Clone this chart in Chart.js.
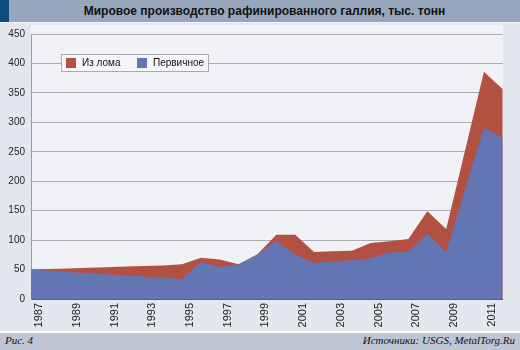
<!DOCTYPE html>
<html>
<head>
<meta charset="utf-8">
<script src="https://cdn.jsdelivr.net/npm/chart.js@4/dist/chart.umd.min.js"></script>
<style>
  html, body { margin: 0; padding: 0; }
  body { width: 520px; height: 350px; background: #e4e8ee; position: relative; overflow: hidden; font-family: "Liberation Sans", Arial, sans-serif; }
  #hdr { position: absolute; left: 0; top: 0; width: 520px; height: 22px; background: #98a6bd; }
  #strip { position: absolute; left: 0; top: 0; width: 9px; height: 22px; background: #0f4c7c; }
  #title { position: absolute; left: 9px; right: 0; top: 0; height: 22px; line-height: 22px; text-align: center; font-weight: bold; font-size: 12px; color: #111; }
  #sep { position: absolute; left: 0; top: 22px; width: 520px; height: 1px; background: #f4f6f9; }
  #wrap { position: absolute; left: 0; top: 22px; width: 520px; height: 309px; }
  #foot { position: absolute; left: 0; top: 331px; width: 520px; height: 19px; background: #bec6d4; border-top: 2px solid #ffffff; box-sizing: border-box; }
  #fl { position: absolute; left: 5px; top: 1px; font-family: "Liberation Serif", "DejaVu Serif", serif; font-style: italic; font-size: 11px; color: #111; }
  #fr { position: absolute; right: 5px; top: 1px; font-family: "Liberation Serif", "DejaVu Serif", serif; font-style: italic; font-size: 11px; color: #111; }
</style>
</head>
<body>
<div id="hdr"><div id="strip"></div><div id="title">Мировое производство рафинированного галлия, тыс. тонн</div></div>
<div id="sep"></div>
<div id="wrap"><canvas id="c" width="520" height="309"></canvas></div>
<div id="foot"><span id="fl">Рис. 4</span><span id="fr">Источники: USGS, MetalTorg.Ru</span></div>
<script>
const years = ["1987","1988","1989","1990","1991","1992","1993","1994","1995","1996","1997","1998","1999","2000","2001","2002","2003","2004","2005","2006","2007","2008","2009","2010","2011","2012"];
const primary = [50,48,46,44,42,40,38,36,34,63,54,59,75,99,75,61,64,66,69,79,80,111,80,185,291,274];
const scrap   = [0,3,6,9,12,15,18,21,25,7,13,0,1,10,34,19,17,16,26,19,22,38,39,67,95,82];
const yTicks = [0,50,100,150,200,250,300,350,400,450];
const seriesNames = ["Из лома", "Первичное"];
const colors = { scrap: "#b25142", primary: "#6475b4" };

const totals = primary.map((v, i) => v + scrap[i]);

const bgPlugin = {
  id: "bg",
  beforeDraw(chart) {
    const { ctx, chartArea: a } = chart;
    ctx.save();
    ctx.fillStyle = "#f0f2f6";
    ctx.fillRect(a.left, a.top - 9, a.right - a.left, a.bottom - a.top + 9);
    ctx.restore();
  }
};

const legendPlugin = {
  id: "boxLegend",
  afterDraw(chart) {
    const { ctx } = chart;
    const x0 = 61.5, y0 = 54.5 - 22, w = 147, h = 17;
    ctx.save();
    ctx.fillStyle = "#f5f6f9";
    ctx.fillRect(x0, y0, w, h);
    ctx.strokeStyle = "#a9abb2";
    ctx.lineWidth = 1;
    ctx.strokeRect(x0, y0, w, h);
    ctx.font = "10px 'Liberation Sans', Arial, sans-serif";
    ctx.textBaseline = "middle";
    ctx.fillStyle = colors.scrap;
    ctx.fillRect(66, y0 + 3.5, 10, 10);
    ctx.fillStyle = colors.primary;
    ctx.fillRect(137, y0 + 3.5, 10, 10);
    ctx.fillStyle = "#111";
    ctx.fillText(seriesNames[0], 82, y0 + h / 2 + 0.5);
    ctx.fillText(seriesNames[1], 153, y0 + h / 2 + 0.5);
    ctx.restore();
  }
};

new Chart(document.getElementById("c"), {
  type: "line",
  data: {
    labels: years,
    datasets: [
      { label: seriesNames[0], data: totals, backgroundColor: colors.scrap, borderWidth: 0, borderColor: colors.scrap, fill: "origin", pointRadius: 0, tension: 0, order: 2 },
      { label: seriesNames[1], data: primary, backgroundColor: colors.primary, borderWidth: 0, borderColor: colors.primary, fill: "origin", pointRadius: 0, tension: 0, order: 1 }
    ]
  },
  options: {
    responsive: false,
    animation: false,
    layout: { padding: { top: 12, right: 5, left: 0, bottom: 0 } },
    plugins: { legend: { display: false }, tooltip: { enabled: false }, title: { display: false } },
    scales: {
      x: {
        type: "category",
        offset: false,
        grid: { display: false, drawTicks: false },
        border: { display: true, color: "#4f5d92", width: 1 },
        ticks: {
          autoSkip: false, maxRotation: 90, minRotation: 90, labelOffset: 8, padding: 4,
          color: "#222", font: { family: "'Liberation Sans', Arial, sans-serif", size: 11 },
          callback: function(v, i) { return i % 2 === 0 ? years[i] : ""; }
        },
        afterFit(s) { s.height = 32; }
      },
      y: {
        min: 0, max: 450,
        afterBuildTicks(s) { s.ticks = yTicks.map(v => ({ value: v })); },
        grid: { color: "#aaacb3", drawTicks: false, lineWidth: 1 },
        border: { display: true, color: "#9a9ca4" },
        ticks: { padding: 6, color: "#222", font: { family: "'Liberation Sans', Arial, sans-serif", size: 10 } },
        afterFit(s) { s.width = 31; }
      }
    }
  },
  plugins: [bgPlugin, legendPlugin]
});
</script>
</body>
</html>
